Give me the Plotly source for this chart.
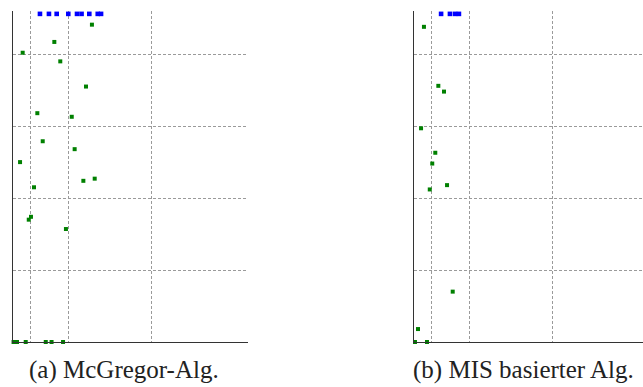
import plotly.graph_objects as go

W, H = 643, 387

# ---- data (panel a: McGregor-Alg.) ----
a_green_x = [57.1, 29.9, 7.0, 34.2, 52.8, 17.6, 42.5, 21.5, 44.6, 5.1, 50.9, 59.1, 15.2, 13.0, 11.4, 38.3,
             0.4, 2.9, 9.2, 23.7, 27.9, 36.2]
a_green_y = [4.41, 4.17, 4.02, 3.90, 3.55, 3.18, 3.13, 2.79, 2.68, 2.50, 2.24, 2.27, 2.15, 1.74, 1.70, 1.57,
             0, 0, 0, 0, 0, 0]
a_blue_x = [19.5, 26.0, 31.6, 40.0, 46.3, 49.6, 55.2, 61.3, 63.7]
a_blue_y = [4.56] * 9

# ---- data (panel b: MIS basierter Alg.) ----
b_green_x = [7.2, 17.6, 21.7, 5.1, 15.4, 13.2, 11.4, 23.9, 28.0, 2.9, 0.7, 9.4]
b_green_y = [4.38, 3.56, 3.48, 2.97, 2.63, 2.48, 2.12, 2.18, 0.70, 0.18, 0, 0]
b_blue_x = [19.6, 26.0, 29.7, 32.5]
b_blue_y = [4.56] * 4

x_grid = [12.5, 40, 100]
y_grid = [1, 2, 3, 4]
captions = ["(a) McGregor-Alg.", "(b) MIS basierter Alg."]

GREEN = "#008000"
BLUE = "#0000ff"

fig = go.Figure()
for xs, ys, col, sz, xa, ya in [
    (a_green_x, a_green_y, GREEN, 4, "x", "y"),
    (a_blue_x, a_blue_y, BLUE, 4.6, "x", "y"),
    (b_green_x, b_green_y, GREEN, 4, "x2", "y2"),
    (b_blue_x, b_blue_y, BLUE, 4.6, "x2", "y2"),
]:
    fig.add_trace(go.Scatter(x=xs, y=ys, mode="markers", xaxis=xa, yaxis=ya,
                             marker=dict(symbol="square", size=sz, color=col, line=dict(width=0)),
                             cliponaxis=False, showlegend=False, hoverinfo="skip"))

ydom = [45 / H, 376 / H]
common_x = dict(showgrid=True, gridcolor="#9a9a9a", griddash="3px,2px", gridwidth=1,
                tickmode="array", tickvals=x_grid, showticklabels=False, ticks="",
                zeroline=False, showline=True, linecolor="#333333", linewidth=1.2)
common_y = dict(showgrid=True, gridcolor="#9a9a9a", griddash="3px,2px", gridwidth=1,
                tickmode="array", tickvals=y_grid, showticklabels=False, ticks="",
                zeroline=False, showline=True, linecolor="#333333", linewidth=1.4,
                range=[0, 4.6], domain=ydom)

cap_font = dict(family="Liberation Serif", size=25, color="#222222")
fig.update_layout(
    width=W, height=H, margin=dict(l=0, r=0, t=0, b=0),
    paper_bgcolor="white", plot_bgcolor="white",
    xaxis=dict(domain=[13 / W, 248 / W], range=[0, 170], anchor="y", **common_x),
    yaxis=dict(anchor="x", **common_y),
    xaxis2=dict(domain=[414 / W, 1.0], range=[0, 170 * 229 / 235], anchor="y2", **common_x),
    yaxis2=dict(anchor="x2", **common_y),
    annotations=[
        dict(text=captions[0], x=123.5 / W, y=(H - 370) / H, xref="paper", yref="paper",
             xanchor="center", yanchor="middle", showarrow=False, font=cap_font),
        dict(text=captions[1], x=411.0 / W, y=(H - 370) / H, xref="paper", yref="paper",
             xanchor="left", yanchor="middle", showarrow=False, font=cap_font),
    ],
)

fig.write_html("out.html", config={"displayModeBar": False},
               post_script="document.body.style.margin='0';document.body.style.overflow='hidden';")
